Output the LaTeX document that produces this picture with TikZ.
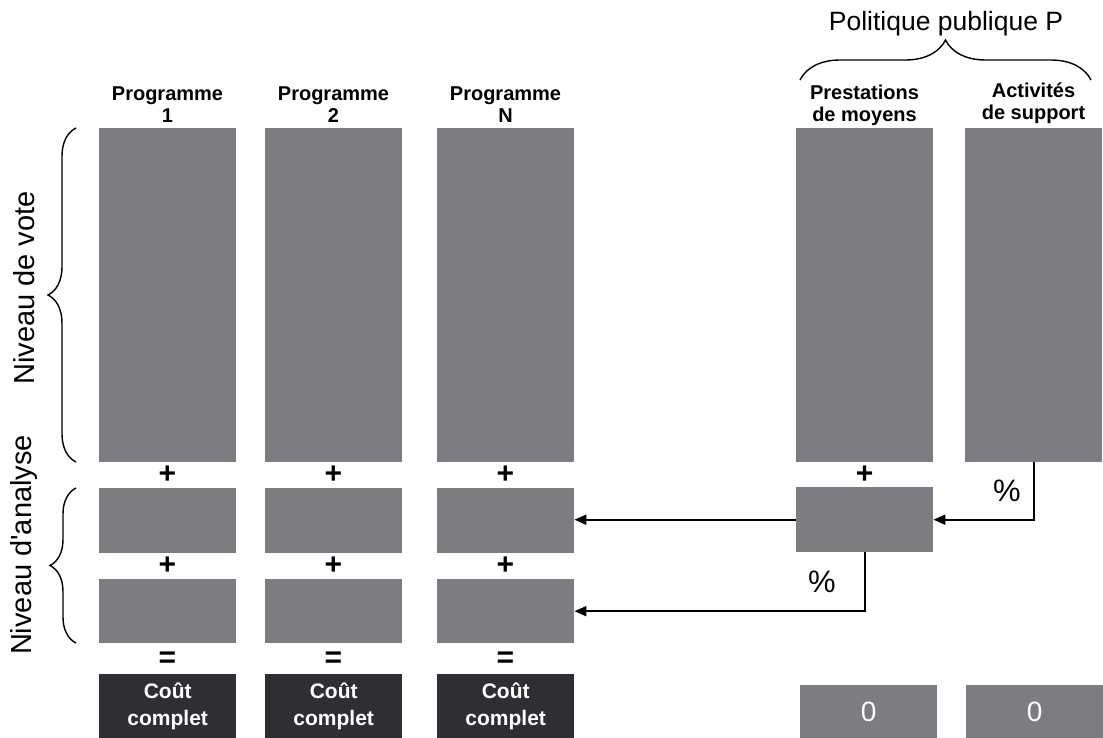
\documentclass[tikz,border=0pt]{standalone}
\usepackage{fontspec}
\setmainfont{Liberation Sans}
\usetikzlibrary{decorations.pathreplacing,arrows.meta}
\definecolor{boxgray}{RGB}{124,124,129}
\definecolor{boxdark}{RGB}{45,47,50}
\begin{document}
\begin{tikzpicture}[x=1pt,y=-1pt,
  gbox/.style={fill=boxgray,draw=none,inner sep=0pt,minimum width=137pt,anchor=north west},
  dbox/.style={fill=boxdark,draw=none,inner sep=0pt,minimum width=137pt,minimum height=64pt,anchor=north west,
     text=white,align=center,font=\fontsize{21}{26.5}\selectfont\bfseries},
  zbox/.style={fill=boxgray,draw=none,inner sep=0pt,minimum width=137pt,minimum height=53pt,anchor=north west,
     text=white,font=\fontsize{28}{30}\selectfont},
  lbl/.style={align=center,inner sep=0pt,anchor=base,font=\fontsize{20}{22}\selectfont\bfseries},
  op/.style={inner sep=0pt,font=\fontsize{30}{30}\selectfont\bfseries},
  pct/.style={inner sep=0pt,font=\fontsize{31}{32}\selectfont},
  side/.style={inner sep=0pt,rotate=90,font=\fontsize{29}{32}\selectfont},
  brc/.style={decorate,line width=1.4pt},
  arr/.style={line width=1.8pt,-{Triangle[length=12pt,width=10pt]}}]
\useasboundingbox (0,0) rectangle (1103,738);
% vote level
\foreach \n/\x in {a/99,b/265,c/437,p/796,s/965}{
  \node[gbox,minimum height=334pt] (\n A) at (\x,128) {};
}
\foreach \n/\x in {a/99,b/265,c/437}{
  \node[gbox,minimum height=65pt] (\n B) at (\x,488) {};
  \node[gbox,minimum height=64pt] (\n C) at (\x,579) {};
  \node[dbox] (\n D) at (\x,674) {Coût\\complet};
  \node[op] (\n plus1) at (\x+68.5,475) {+};
  \node[op] (\n plus2) at (\x+68.5,566) {+};
  \node[op] (\n eq) at (\x+68.5,660) {=};
}
\node[gbox,minimum height=65pt] (pB) at (796,487) {};
\node[op] (pplus) at (864.5,475) {+};
\node[zbox] (pZ) at (800,685) {0};
\node[zbox] (sZ) at (966,685) {0};
% labels
\node[lbl] (l1) at (167.5,123) {Programme\\1};
\node[lbl] (l2) at (333.5,123) {Programme\\2};
\node[lbl] (l3) at (505.5,123) {Programme\\N};
\node[lbl] (lp) at (864.5,122) {Prestations\\de moyens};
\node[lbl] (ls) at (1033.5,120) {Activités\\de support};
\node[inner sep=0pt,anchor=base,font=\fontsize{26.5}{28}\selectfont] (pol) at (946,31) {Politique publique P};
% side texts
\node[side] (vote) at (24,288) {Niveau de vote};
\node[side] (anal) at (24,545) {Niveau d\textquotesingle analyse};
% braces
\draw[brc,decoration={brace,amplitude=28pt}] (76,462) -- (76,128);
\draw[brc,decoration={brace,amplitude=26pt}] (76,643) -- (76,488);
\draw[brc,decoration={brace,amplitude=40pt}] (800,80) -- (1091,80);
% arrows
\draw[arr] (sA.south) |- (pB.east);
\draw[arr] (pB.west) -- (pB.west -| cB.east);
\draw[arr] (pB.south) |- (cC.east);
\node[pct] (pc1) at (1007,491) {\%};
\node[pct] (pc2) at (822,582) {\%};
\end{tikzpicture}
\end{document}
